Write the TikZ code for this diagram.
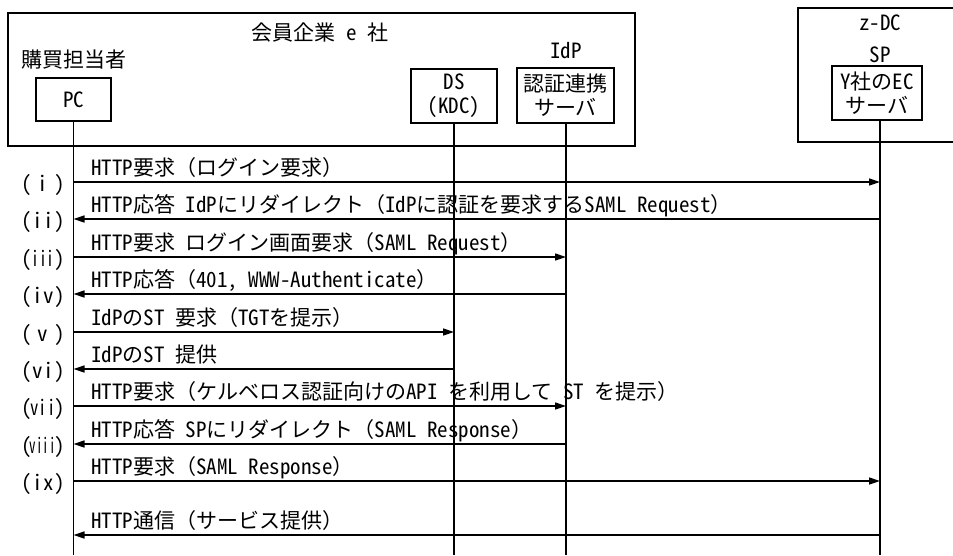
\documentclass[tikz,border=0pt]{standalone}
\usepackage{fontspec}
\usepackage{graphicx}
\usetikzlibrary{arrows.meta}
\setmainfont{Noto Sans CJK JP}[RawFeature={+hwid}]
\newfontfamily\fwfont{Noto Sans CJK JP}
\newcommand{\jlp}{{\fwfont （}}
\newcommand{\jrp}{{\fwfont ）}}
\newcommand{\rnum}[2]{(\makebox[22pt][c]{\scalebox{#1}[1]{#2}})}
\begin{document}
\begin{tikzpicture}[x=1pt,y=-1pt,
  box/.style={draw,line width=1.7pt,inner sep=0pt},
  msg/.style={line width=1.4pt,-{Triangle[length=11pt,width=7pt]}},
  life/.style={line width=1.4pt},
  lbl/.style={anchor=base west,inner sep=0pt,font=\fontsize{21}{24}\selectfont},
  num/.style={inner sep=0pt,font=\fontsize{21}{24}\selectfont},
  hdr/.style={inner sep=0pt,font=\fontsize{21}{24}\selectfont,align=center},
]
\useasboundingbox (0,0) rectangle (953,555);
\fill[white] (0,0) rectangle (953,555);
\clip (0,0) rectangle (953,555);
% boxes
\node[box,minimum width=627pt,minimum height=133pt] (ent) at (321.5,79.5) {};
\node[box,minimum width=172pt,minimum height=134pt] (zdc) at (884,75) {};
\node[box,minimum width=75pt,minimum height=43pt,hdr] (pc) at (73.5,99.5) {PC};
\node[box,minimum width=86pt,minimum height=54pt,hdr] (ds) at (454,96) {DS\\(KDC)};
\node[box,minimum width=97pt,minimum height=55pt,hdr] (idp) at (565.5,95.5) {認証連携\\サーバ};
\node[box,minimum width=90pt,minimum height=54pt,hdr] (sp) at (877,93) {Y社のEC\\サーバ};
% headings
\node[hdr] (entname) at (320,33) {会員企業 e 社};
\node[hdr,anchor=west] (buyer) at (21,60) {購買担当者};
\node[hdr] (idplbl) at (566,51) {IdP};
\node[hdr] (zdclbl) at (880,23) {z-DC};
\node[hdr] (splbl) at (880,55) {SP};
% lifelines
\coordinate (bot) at (0,555);
\coordinate (spx) at (880,0);
\draw[life] (pc.south) -- (pc.south |- bot);
\draw[life] (ds.south) -- (ds.south |- bot);
\draw[life] (idp.south -| idplbl) -- (idplbl |- bot);
\draw[life] (spx |- sp.south) -- (spx |- bot);
% message levels
\foreach \n/\y in {1/182,2/219,3/257,4/294,5/332,6/369,7/406,8/444,9/481,10/535}
  \coordinate (m\n) at (0,\y);
% messages
\draw[msg] (pc.south |- m1) -- (spx |- m1);
\draw[msg] (spx |- m2) -- (pc.south |- m2);
\draw[msg] (pc.south |- m3) -- (idplbl |- m3);
\draw[msg] (idplbl |- m4) -- (pc.south |- m4);
\draw[msg] (pc.south |- m5) -- (ds.south |- m5);
\draw[msg] (ds.south |- m6) -- (pc.south |- m6);
\draw[msg] (pc.south |- m7) -- (idplbl |- m7);
\draw[msg] (idplbl |- m8) -- (pc.south |- m8);
\draw[msg] (pc.south |- m9) -- (spx |- m9);
\draw[msg] (spx |- m10) -- (pc.south |- m10);
% message texts
\node[lbl] (t1) at (91,175) {HTTP要求\jlp ログイン要求\jrp};
\node[lbl] (t2) at (91,212) {HTTP応答 IdPにリダイレクト\jlp IdPに認証を要求するSAML Request\jrp};
\node[lbl] (t3) at (91,250) {HTTP要求 ログイン画面要求\jlp SAML Request\jrp};
\node[lbl] (t4) at (91,287) {HTTP応答\jlp 401, WWW-Authenticate\jrp};
\node[lbl] (t5) at (91,325) {IdPのST 要求\jlp TGTを提示\jrp};
\node[lbl] (t6) at (91,362) {IdPのST 提供};
\node[lbl] (t7) at (91,399) {HTTP要求\jlp ケルベロス認証向けのAPI を利用して ST を提示\jrp};
\node[lbl] (t8) at (91,437) {HTTP応答 SPにリダイレクト\jlp SAML Response\jrp};
\node[lbl] (t9) at (91,474) {HTTP要求\jlp SAML Response\jrp};
\node[lbl] (t10) at (91,528) {HTTP通信\jlp サービス提供\jrp};
% step numbers
\foreach \n/\s/\r in {1/1/i,2/1/ii,3/0.75/iii,4/1/iv,5/1/v,6/1/vi,7/0.8/vii,8/0.62/viii,9/1/ix}
  \node[num] (n\n) at (43,0 |- m\n) [yshift=-3pt] {\rnum{\s}{\r}};
\end{tikzpicture}
\end{document}
